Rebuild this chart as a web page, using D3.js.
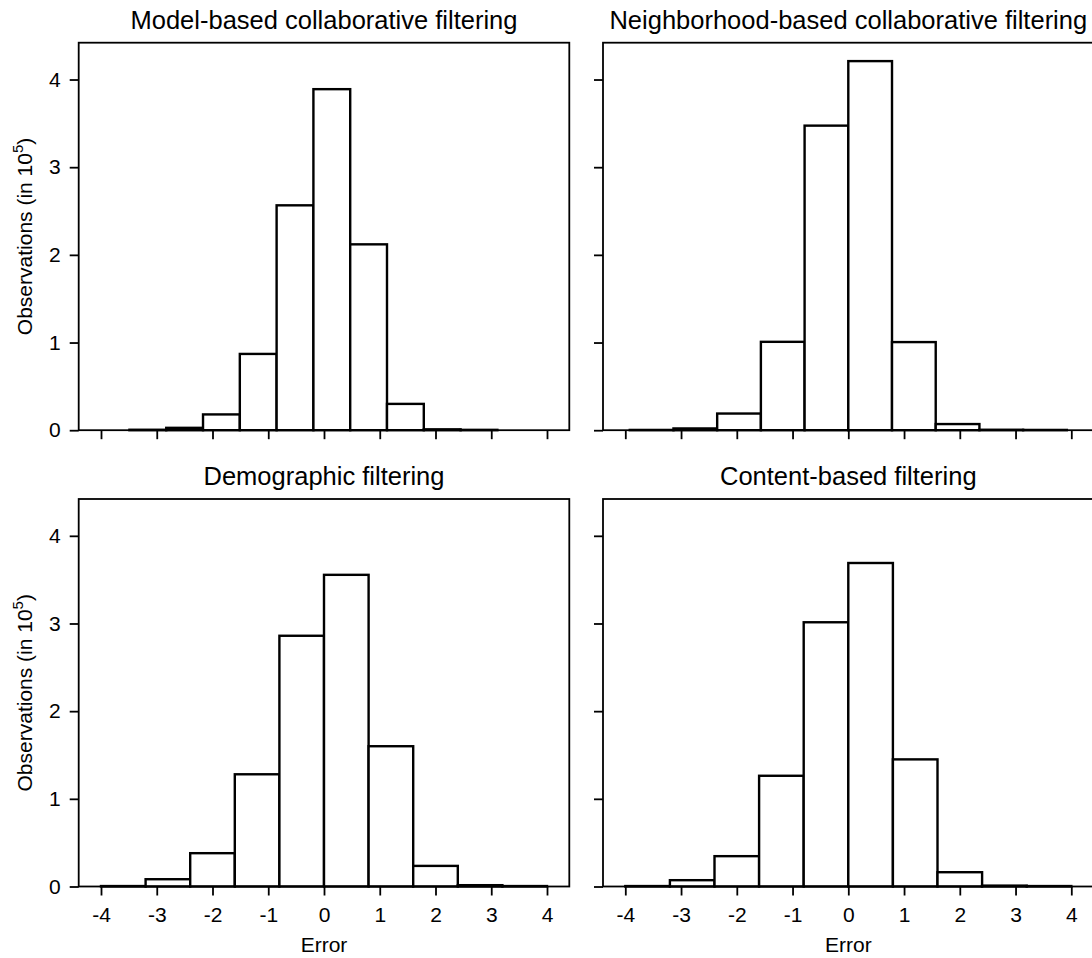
<!DOCTYPE html>
<html>
<head>
<meta charset="utf-8">
<script src="https://cdn.jsdelivr.net/npm/d3@7"></script>
<style>
  body { margin: 0; background: #fff; }
  text { font-family: "Liberation Sans", Arial, sans-serif; fill: #000; }
</style>
</head>
<body>
<div id="chart"></div>
<script>
// panel titles
var titles = [
  "Model-based collaborative filtering",
  "Neighborhood-based collaborative filtering",
  "Demographic filtering",
  "Content-based filtering"
];

// bin edges of each histogram (error values)
var modelEdges = [-3.49, -2.83, -2.17, -1.51, -0.85, -0.19, 0.47, 1.13, 1.79, 2.45, 3.11];
var neighborEdges = [-3.92, -3.136, -2.352, -1.568, -0.784, 0, 0.784, 1.568, 2.352, 3.136, 3.92];
var demoEdges = [-4, -3.2, -2.4, -1.6, -0.8, 0, 0.8, 1.6, 2.4, 3.2, 4];
var contentEdges = [-4, -3.2, -2.4, -1.6, -0.8, 0, 0.8, 1.6, 2.4, 3.2, 4];

// counts per bin, in 10^5 observations
var modelCounts = [0.005, 0.027, 0.18, 0.87, 2.565, 3.89, 2.12, 0.30, 0.01, 0.004];
var neighborCounts = [0.003, 0.02, 0.19, 1.008, 3.474, 4.21, 1.005, 0.07, 0.005, 0.003];
var demoCounts = [0.005, 0.083, 0.38, 1.28, 2.86, 3.555, 1.60, 0.235, 0.015, 0.005];
var contentCounts = [0.005, 0.072, 0.346, 1.263, 3.014, 3.69, 1.45, 0.163, 0.01, 0.005];

var xTicks = [-4, -3, -2, -1, 0, 1, 2, 3, 4];
var yTicks = [0, 1, 2, 3, 4];

var panels = [
  { title: titles[0], edges: modelEdges, counts: modelCounts, col: 0, row: 0 },
  { title: titles[1], edges: neighborEdges, counts: neighborCounts, col: 1, row: 0 },
  { title: titles[2], edges: demoEdges, counts: demoCounts, col: 0, row: 1 },
  { title: titles[3], edges: contentEdges, counts: contentCounts, col: 1, row: 1 }
];

var W = 1092, H = 958;
var pw = 490.6, ph = 387.5;
var colX = [78.7, 603];
var rowY = [42.7, 499];

var svg = d3.select("#chart").append("svg")
  .attr("width", W)
  .attr("height", H);

var x = d3.scaleLinear().domain([-4.4, 4.4]).range([0, pw]);
var y = d3.scaleLinear().domain([0, 4.42]).range([ph, 0]);

panels.forEach(function (p) {
  var g = svg.append("g")
    .attr("transform", "translate(" + colX[p.col] + "," + rowY[p.row] + ")");

  // bars
  var bins = p.counts.map(function (c, i) {
    return { x0: p.edges[i], x1: p.edges[i + 1], v: c };
  });
  g.selectAll("rect.bar")
    .data(bins)
    .enter()
    .append("rect")
    .attr("class", "bar")
    .attr("x", function (d) { return x(d.x0); })
    .attr("y", function (d) { return y(d.v); })
    .attr("width", function (d) { return x(d.x1) - x(d.x0); })
    .attr("height", function (d) { return ph - y(d.v); })
    .attr("fill", "#fff")
    .attr("stroke", "#000")
    .attr("stroke-width", 2.4);

  // frame
  g.append("rect")
    .attr("width", pw)
    .attr("height", ph)
    .attr("fill", "none")
    .attr("stroke", "#000")
    .attr("stroke-width", 1.8);

  // x axis
  var xa = g.append("g")
    .attr("transform", "translate(0," + ph + ")")
    .call(d3.axisBottom(x).tickValues(xTicks).tickSizeOuter(0).tickSizeInner(9).tickPadding(12));
  // y axis
  var ya = g.append("g")
    .call(d3.axisLeft(y).tickValues(yTicks).tickSizeOuter(0).tickSizeInner(9).tickPadding(9));

  [xa, ya].forEach(function (a) {
    a.attr("font-size", 21).attr("font-family", "'Liberation Sans', Arial, sans-serif");
    a.select(".domain").remove();
    a.selectAll(".tick line").attr("stroke", "#000").attr("stroke-width", 1.8);
  });
  xa.selectAll(".tick text").text(function (d) {
    return p.row === 1 ? (d < 0 ? "-" + Math.abs(d) : d) : "";
  });
  ya.selectAll(".tick text").text(function (d) {
    return p.col === 0 ? d : "";
  });

  // title
  g.append("text")
    .attr("x", pw / 2)
    .attr("y", -14)
    .attr("text-anchor", "middle")
    .attr("font-size", 25.5)
    .text(p.title);

  if (p.row === 1) {
    g.append("text")
      .attr("x", x(0))
      .attr("y", ph + 65)
      .attr("text-anchor", "middle")
      .attr("font-size", 21)
      .text("Error");
  }

  if (p.col === 0) {
    var yl = g.append("text")
      .attr("transform", "translate(" + (-47) + "," + (ph / 2) + ") rotate(-90)")
      .attr("text-anchor", "middle")
      .attr("font-size", 21);
    yl.append("tspan").text("Observations (in 10");
    yl.append("tspan").attr("dy", -9).attr("font-size", 15).text("5");
    yl.append("tspan").attr("dy", 9).text(")");
  }
});
</script>
</body>
</html>
